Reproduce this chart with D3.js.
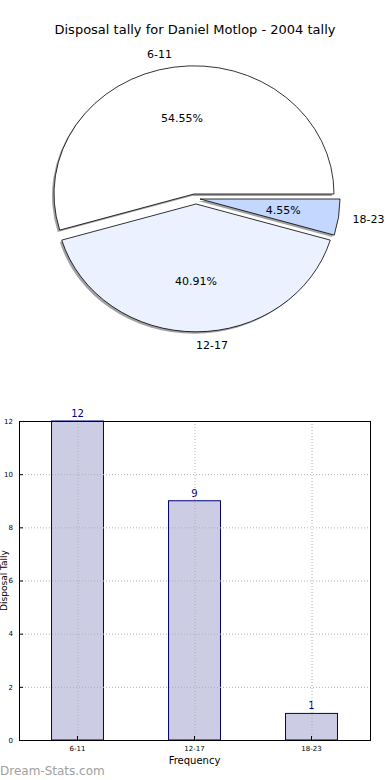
<!DOCTYPE html>
<meta charset="utf-8">
<script src="https://d3js.org/d3.v7.min.js"></script>
<style>
  body { margin: 0; background: #fff; }
  text { font-family: "DejaVu Sans", sans-serif; }
</style>
<div id="vis"></div>
<script>

var categories = ["6-11", "12-17", "18-23"]
var tally = [12, 9, 1]
var pctLabels = ["54.55%", "40.91%", "4.55%"]
var sliceColors = ["#ffffff", "#ebf1ff", "#c4d7ff"]
var yTicks = [0, 2, 4, 6, 8, 10, 12]

var width = 390,
    height = 780

var svg = d3.select("#vis")
  .append("svg")
    .attr("width", width)
    .attr("height", height)

// ---- title
svg.append("text")
  .attr("x", 195).attr("y", 34)
  .attr("text-anchor", "middle")
  .style("font-size", "13px")
  .text("Disposal tally for Daniel Motlop - 2004 tally")

// ---- pie (matplotlib style: ccw from 3 o'clock, elliptical axes)
var cx = 194, cy = 194, rx = 140, ry = 128
var explode = [[0, 0], [2, 10], [6, 5]]

var pie = d3.pie()
  .sort(null)
  .startAngle(Math.PI / 2)
  .endAngle(Math.PI / 2 - 2 * Math.PI)
var slices = pie(tally)

var arc = d3.arc().innerRadius(0).outerRadius(1)

// shadows first, all under the wedges
svg.append("g").selectAll("path")
  .data(slices)
  .enter()
  .append("path")
    .attr("transform", function(d, i) {
      return "translate(" + (cx + explode[i][0] - 2) + "," + (cy + explode[i][1] + 2) + ") scale(" + rx + "," + ry + ")"
    })
    .attr("d", arc)
    .attr("fill", "#555")
    .attr("opacity", 0.55)

svg.append("g").selectAll("path")
  .data(slices)
  .enter()
  .append("path")
    .attr("transform", function(d, i) {
      return "translate(" + (cx + explode[i][0]) + "," + (cy + explode[i][1]) + ") scale(" + rx + "," + ry + ")"
    })
    .attr("d", arc)
    .attr("fill", function(d, i) { return sliceColors[i] })
    .attr("stroke", "#000")
    .attr("stroke-width", 0.8)
    .attr("vector-effect", "non-scaling-stroke")

function slicePoint(d, i, dist) {
  var a = (d.startAngle + d.endAngle) / 2
  return [cx + explode[i][0] + dist * Math.sin(a) * rx,
          cy + explode[i][1] - dist * Math.cos(a) * ry, Math.sin(a)]
}

svg.append("g").selectAll("text")
  .data(slices)
  .enter()
  .append("text")
    .each(function(d, i) {
      var p = slicePoint(d, i, 1.1)
      d3.select(this)
        .attr("x", p[0]).attr("y", p[1])
        .attr("dy", "0.35em")
        .attr("text-anchor", p[2] > -1e-9 ? "start" : "end")
    })
    .style("font-size", "11px")
    .text(function(d, i) { return categories[i] })

svg.append("g").selectAll("text")
  .data(slices)
  .enter()
  .append("text")
    .each(function(d, i) {
      var p = slicePoint(d, i, 0.6)
      d3.select(this).attr("x", p[0]).attr("y", p[1])
    })
    .attr("dy", "0.35em")
    .attr("text-anchor", "middle")
    .style("font-size", "11px")
    .text(function(d, i) { return pctLabels[i] })

// ---- bar chart
var plotLeft = 19, plotRight = 370, plotTop = 421, plotBottom = 740

var x = d3.scaleBand()
  .domain(categories)
  .range([plotLeft, plotRight])
  .paddingInner(0.556)
  .paddingOuter(0.278)

var y = d3.scaleLinear()
  .domain([0, 12])
  .range([plotBottom, plotTop])

var bars = svg.append("g")
bars.selectAll("rect")
  .data(tally)
  .enter()
  .append("rect")
    .attr("x", function(d, i) { return x(categories[i]) })
    .attr("y", function(d) { return y(d) })
    .attr("width", x.bandwidth())
    .attr("height", function(d) { return y(0) - y(d) })
    .attr("fill", "#ccccE5")
    .attr("stroke", "#000080")
    .attr("stroke-width", 1)

bars.selectAll("text")
  .data(tally)
  .enter()
  .append("text")
    .attr("x", function(d, i) { return x(categories[i]) + x.bandwidth() / 2 })
    .attr("y", function(d) { return y(d) - 4 })
    .attr("text-anchor", "middle")
    .attr("fill", "#000080")
    .style("font-size", "10px")
    .text(function(d) { return d })

// grid, drawn over the bars
var grid = svg.append("g")
  .attr("stroke", "#b0b0b0")
  .attr("stroke-dasharray", "1,2")
grid.selectAll(".hg")
  .data(yTicks)
  .enter()
  .append("line")
    .attr("x1", plotLeft).attr("x2", plotRight)
    .attr("y1", function(d) { return y(d) + 0.5 })
    .attr("y2", function(d) { return y(d) + 0.5 })
grid.selectAll(".vg")
  .data(categories)
  .enter()
  .append("line")
    .attr("x1", function(d) { return x(d) + x.bandwidth() / 2 + 0.5 })
    .attr("x2", function(d) { return x(d) + x.bandwidth() / 2 + 0.5 })
    .attr("y1", plotTop).attr("y2", plotBottom)

// axes
svg.append("g")
  .attr("transform", "translate(" + plotLeft + ",0)")
  .call(d3.axisLeft(y).tickValues(yTicks).tickSize(-4).tickPadding(6))
  .call(function(g) {
    g.select(".domain").remove()
    g.selectAll("text").style("font-size", "7px").style("font-family", "DejaVu Sans, sans-serif")
  })

svg.append("g")
  .attr("transform", "translate(0," + plotBottom + ")")
  .call(d3.axisBottom(x).tickSize(-4).tickPadding(6))
  .call(function(g) {
    g.select(".domain").remove()
    g.selectAll("text").style("font-size", "7px").style("font-family", "DejaVu Sans, sans-serif")
  })

svg.append("rect")
  .attr("x", plotLeft + 0.5).attr("y", plotTop + 0.5)
  .attr("width", plotRight - plotLeft).attr("height", plotBottom - plotTop)
  .attr("fill", "none")
  .attr("stroke", "#000")

svg.append("text")
  .attr("x", (plotLeft + plotRight) / 2).attr("y", 764)
  .attr("text-anchor", "middle")
  .style("font-size", "10px")
  .text("Frequency")

svg.append("text")
  .attr("transform", "translate(7," + ((plotTop + plotBottom) / 2) + ") rotate(-90)")
  .attr("text-anchor", "middle")
  .style("font-size", "9px")
  .text("Disposal Tally")

svg.append("text")
  .attr("x", 0).attr("y", 775)
  .attr("fill", "#a0a0a0")
  .style("font-size", "12px")
  .text("Dream-Stats.com")

</script>
